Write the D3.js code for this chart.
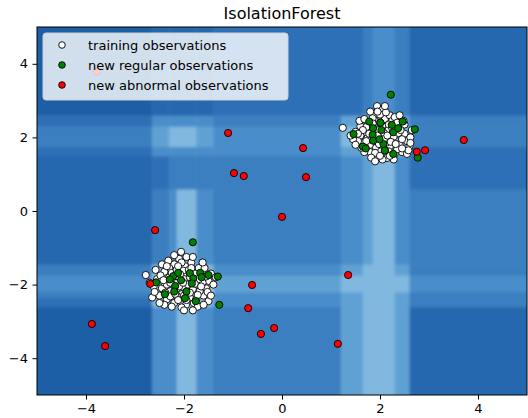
<!DOCTYPE html>
<html><head><meta charset="utf-8">
<script src="https://cdn.jsdelivr.net/npm/d3@7"></script>
<style>body{margin:0;background:#fff}svg{display:block}text{font-family:"DejaVu Sans",sans-serif}</style>
</head><body><svg id="c" width="528" height="418"></svg>
<script>
// ---- data ----
const title = "IsolationForest";
const xTicks = [-4,-2,0,2,4];
const yTicks = [-4,-2,0,2,4];
const legendLabels = ["training observations","new regular observations","new abnormal observations"];
// decision-function background (contour levels), rows bottom->top
const xEdges = [-5,-2.65,-2.3,-2.15,-1.75,-1.4,1.2,1.65,1.85,2.3,2.6,5];
const yEdges = [-5,-2.6,-2.35,-2.2,-1.75,-1.45,0.6,1.5,1.75,2.3,2.6,5];
const levelGrid = [
 [0,4,4,6,4,3,5,6,6,5,1],
 [2,6,6,7,6,4,5,6,6,5,3],
 [3,7,7,7,7,4,5,6,6,5,3],
 [4,7,7,7,7,5,6,6,6,6,4],
 [3,6,7,7,6,4,5,6,6,5,3],
 [1,3,4,6,4,3,4,5,6,4,3],
 [1,2,3,3,3,3,4,5,6,4,2],
 [2,4,4,4,4,4,5,6,6,6,2],
 [3,5,6,6,5,4,6,7,7,6,3],
 [2,4,4,4,4,3,5,6,6,5,3],
 [0,1,1,1,1,2,2,3,4,3,1]
];
const trainX = [
 2.0,1.9,2.1,1.95,2.15,1.85,2.05,2.25,1.75,2.3,
 1.8,2.2,2.0,1.7,2.35,1.9,2.1,1.65,2.4,2.05,
 1.94,2.05,1.88,2.2,2.25,1.6,1.55,1.24,2.5,2.55,
 2.45,2.3,2.14,1.95,1.8,1.7,2.6,2.5,1.75,1.6,
 2.12,1.98,2.28,1.82,2.08,1.92,2.18,1.72,2.38,2.02,
 1.5,1.45,1.68,2.35,2.62,2.0,2.12,1.85,2.3,1.58,
 2.42,2.22,1.88,2.08,1.78,2.18,1.9,2.45,2.32,1.65,
 2.05,1.82,2.55,2.0,2.15,1.95,2.25,1.72,2.48,1.55,
 2.4,1.95,2.28,1.62,2.65,1.4,2.1,1.8,2.58,1.5,
 2.2,2.1,1.98,2.35,1.85,2.62,1.68,2.45,2.0,1.9,
 -2.0,-2.1,-1.9,-2.05,-1.85,-2.2,-1.95,-2.15,-1.75,-2.3,
 -2.06,-1.95,-2.1,-1.85,-2.2,-1.98,-2.3,-1.7,-2.78,-2.55,
 -2.45,-2.5,-2.35,-2.2,-1.96,-1.8,-1.6,-1.55,-1.5,-1.45,
 -2.4,-2.28,-2.12,-1.88,-1.68,-1.62,-1.78,-2.02,-2.25,-2.4,
 -2.08,-1.92,-2.18,-1.82,-2.0,-2.0,-1.7,-2.35,-2.12,-1.88,
 -2.62,-2.58,-2.45,-1.58,-1.4,-1.5,-1.72,-2.05,-2.4,-2.65,
 -2.2,-1.82,-2.32,-1.62,-2.15,-1.9,-2.28,-1.75,-2.48,-1.52,
 -2.05,-1.95,-2.25,-1.78,-2.15,-1.65,-2.38,-1.98,-2.08,-1.85,
 -2.7,-2.6,-1.35,-1.45,-2.5,-1.6,-2.25,-2.0,-1.82,-2.35,
 -2.1,-1.92,-2.18,-1.72,-2.42,-2.02,-1.88,-2.28,-1.55,-2.12
];
const trainY = [
 2.05,2.1,2.0,1.9,2.2,2.25,2.3,2.1,2.0,1.95,
 1.8,1.75,1.7,2.15,2.3,2.45,2.5,1.85,1.8,1.55,
 2.85,2.75,2.62,2.6,2.45,2.05,1.9,2.26,2.1,1.9,
 1.6,1.55,1.44,1.5,1.6,1.7,1.75,2.35,2.4,2.3,
 1.85,2.2,2.02,1.95,2.12,1.72,2.35,2.28,2.12,1.62,
 2.15,1.95,1.6,1.68,2.0,2.62,2.68,2.52,2.55,2.45,
 2.2,1.88,2.0,1.95,2.1,1.62,1.58,1.95,1.82,2.2,
 1.4,1.45,1.55,2.4,2.05,2.05,2.25,1.9,2.45,2.1,
 2.6,2.7,1.4,1.72,2.2,2.05,2.85,2.7,1.65,1.8,
 1.5,1.65,1.82,2.4,2.38,1.85,2.5,1.7,1.5,1.35,
 -2.0,-1.9,-2.1,-2.2,-1.85,-2.05,-1.75,-2.3,-2.0,-1.8,
 -1.11,-1.25,-1.3,-1.4,-1.45,-1.5,-1.55,-1.55,-1.74,-1.85,
 -2.1,-2.3,-2.4,-2.5,-2.55,-2.5,-2.3,-2.1,-1.9,-1.7,
 -1.95,-2.18,-2.42,-2.35,-2.18,-1.95,-1.7,-1.62,-1.68,-1.65,
 -2.08,-1.92,-1.95,-2.12,-2.3,-1.85,-1.85,-2.0,-1.78,-2.22,
 -2.05,-1.6,-1.45,-1.55,-2.0,-2.45,-2.6,-2.62,-2.55,-2.35,
 -1.2,-1.25,-1.35,-1.4,-1.6,-1.6,-2.32,-2.4,-1.75,-2.2,
 -1.4,-2.42,-1.85,-1.98,-2.12,-2.05,-2.22,-2.1,-1.72,-1.55,
 -1.95,-2.2,-1.8,-2.3,-2.5,-2.55,-2.6,-2.7,-2.7,-1.5,
 -2.05,-2.0,-2.25,-2.28,-1.88,-1.95,-1.8,-1.95,-1.78,-1.5
];
const regularX = [
 2.22,1.46,1.65,1.86,1.85,1.86,2.01,2.03,2.24,2.27,2.37,2.71,2.07,2.10,2.27,2.77,1.99,1.78,1.71,2.46,
 -1.82,-2.57,-2.39,-2.22,-2.12,-2.06,-2.18,-2.20,-1.95,-1.88,-1.81,-1.67,-1.64,-1.50,-1.84,-1.98,-1.76,-1.31,-1.28,-2.29
];
const regularY = [
 3.16,2.09,1.75,2.25,2.07,1.91,2.40,2.20,2.34,2.14,2.25,2.22,1.82,1.64,1.55,1.45,1.95,2.43,1.70,2.43,
 -0.85,-1.94,-2.26,-1.77,-1.68,-1.88,-2.04,-2.19,-2.19,-1.69,-1.83,-1.68,-1.80,-1.74,-1.97,-2.37,-2.45,-1.78,-2.55,-1.86
];
const abnormalX = [-1.10,0.43,-0.98,-0.78,0.49,3.71,2.75,2.92,0.0,-2.59,-2.69,-0.61,1.35,-0.69,-3.88,-3.61,-0.43,-0.16,1.14,-3.78];
const abnormalY = [2.12,1.71,1.03,0.95,0.92,1.93,1.61,1.65,-0.16,-0.52,-1.98,-2.01,-1.74,-2.64,-3.07,-3.67,-3.34,-3.18,-3.61,3.79];

// ---- layout ----
const svg = d3.select("#c");
const L = 37, R = 527, T = 27, B = 395;
const x = d3.scaleLinear().domain([-5,5]).range([L,R]);
const y = d3.scaleLinear().domain([-5,5]).range([B,T]);
const palette = ["#1b5ea7","#2567b0","#2e70b7","#3b7fc0","#4a8dca","#60a1d4","#80b8df","#a2cbe7"];
const color = d3.scaleOrdinal().domain(d3.range(8)).range(palette);

const defs = svg.append("defs");
defs.append("clipPath").attr("id","clip").append("rect").attr("x",L).attr("y",T).attr("width",R-L).attr("height",B-T);
defs.append("filter").attr("id","soft").attr("x","-5%").attr("y","-5%").attr("width","110%").attr("height","110%")
  .append("feGaussianBlur").attr("stdDeviation",1.8);

const cells = [];
levelGrid.forEach((row,ri)=>row.forEach((lv,ci)=>cells.push({x0:xEdges[ci],x1:xEdges[ci+1],y0:yEdges[ri],y1:yEdges[ri+1],lv})));
const pad = 8;
const bg = svg.append("g").attr("clip-path","url(#clip)").append("g").attr("filter","url(#soft)");
bg.selectAll("rect").data(cells).join("rect")
  .attr("x",d=>x(d.x0)-(d.x0===-5?pad:0))
  .attr("width",d=>x(d.x1)-x(d.x0)+(d.x0===-5?pad:0)+(d.x1===5?pad:0)+0.5)
  .attr("y",d=>y(d.y1)-(d.y1===5?pad:0))
  .attr("height",d=>y(d.y0)-y(d.y1)+(d.y1===5?pad:0)+(d.y0===-5?pad:0)+0.5)
  .attr("fill",d=>color(d.lv));

const pts = svg.append("g").attr("clip-path","url(#clip)");
function scatter(xs,ys,fill){
  pts.append("g").selectAll("circle").data(xs.map((v,i)=>[v,ys[i]])).join("circle")
    .attr("cx",d=>x(d[0])).attr("cy",d=>y(d[1])).attr("r",3.6)
    .attr("fill",fill).attr("stroke","#000").attr("stroke-width",0.9);
}
scatter(trainX,trainY,"#ffffff");
scatter(regularX,regularY,"#008000");
scatter(abnormalX,abnormalY,"#ff0000");

// axes
const fmt = d=>d<0?"\u2212"+Math.abs(d):String(d);
svg.append("g").attr("transform",`translate(0,${B})`)
  .call(d3.axisBottom(x).tickValues(xTicks).tickFormat(fmt).tickSize(4.5).tickPadding(4.5))
  .call(g=>{g.select(".domain").remove();g.selectAll("text").attr("font-size",13).attr("fill","#000").attr("font-family","DejaVu Sans");g.selectAll("line").attr("stroke","#000");});
svg.append("g").attr("transform",`translate(${L},0)`)
  .call(d3.axisLeft(y).tickValues(yTicks).tickFormat(fmt).tickSize(4.5).tickPadding(4.5))
  .call(g=>{g.select(".domain").remove();g.selectAll("text").attr("font-size",13).attr("fill","#000").attr("font-family","DejaVu Sans");g.selectAll("line").attr("stroke","#000");});
svg.append("rect").attr("x",L).attr("y",T).attr("width",R-L).attr("height",B-T)
  .attr("fill","none").attr("stroke","#000").attr("stroke-width",1);

svg.append("text").attr("x",(L+R)/2).attr("y",18.5).attr("text-anchor","middle")
  .attr("font-size",16).text(title);

// legend
const lg = svg.append("g");
lg.append("rect").attr("x",43).attr("y",33).attr("width",245).attr("height",67).attr("rx",3)
  .attr("fill","#fff").attr("fill-opacity",0.8).attr("stroke","#d0d0d0");
const legFills = ["#ffffff","#008000","#ff0000"];
legendLabels.forEach((t,i)=>{
  const cy = 45 + i*20;
  lg.append("circle").attr("cx",62).attr("cy",cy).attr("r",3.3).attr("fill",legFills[i]).attr("stroke","#000").attr("stroke-width",0.9);
  lg.append("text").attr("x",88).attr("y",cy+4.6).attr("font-size",13).text(t);
});
</script></body></html>
